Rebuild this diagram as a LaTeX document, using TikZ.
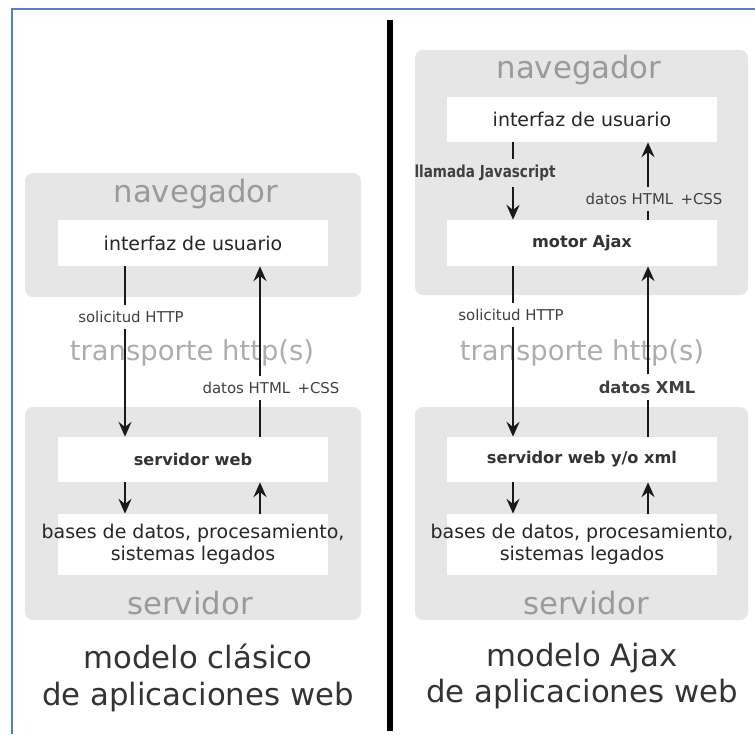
\documentclass[tikz,border=0pt]{standalone}
\usepackage{fontspec}
\setmainfont{DejaVu Sans}
\newfontfamily\narrowfont[FakeStretch=0.82]{DejaVu Sans}
\usetikzlibrary{arrows.meta}
\definecolor{panelColor}{HTML}{E6E6E6}
\definecolor{headColor}{HTML}{9A9A9A}
\definecolor{wireColor}{HTML}{ADADAD}
\definecolor{textColor}{HTML}{333333}
\definecolor{frameColor}{HTML}{5081C0}

\tikzset{
    panel/.style={draw=none,fill=panelColor,rounded corners=4.5pt,inner sep=0pt},
    layer/.style={draw=none,fill=white,minimum width=5.4cm,inner sep=0pt},
    layertext/.style={text=black!85,align=center,font=\fontsize{10.8}{12.5}\selectfont},
    layerbold/.style={text=black!80,font=\bfseries\fontsize{9.2}{11}\selectfont},
    head/.style={text=headColor,font=\fontsize{17.5}{20}\selectfont},
    wire/.style={text=wireColor,font=\fontsize{15.6}{18}\selectfont},
    lbl/.style={text=black!75,font=\fontsize{8.5}{10}\selectfont},
    title/.style={text=textColor,align=center,font=\fontsize{17.5}{21}\selectfont},
    flow/.style={line width=0.8pt,draw=black!90},
    flowArr/.style={flow,-{Stealth[length=8.5pt,width=7.5pt,inset=3pt]}}
}

\begin{document}
\begin{tikzpicture}
    \useasboundingbox (0,0) rectangle (15.1,14.68);

    \draw[frameColor,line width=1.2pt] (0.24,0) -- (0.24,14.5) -- (15.1,14.5);
    \draw[line width=3.4pt] (7.8,14.28) -- (7.8,0.06);

    % modelo clasico
    \node[panel,minimum width=6.72cm,minimum height=2.48cm] (nav1) at (3.86,9.98) {};
    \node[panel,minimum width=6.72cm,minimum height=4.26cm] (srv1) at (3.86,4.41) {};
    \node[layer,minimum height=0.92cm,layertext] (ui1) at (3.86,9.82) {interfaz de usuario};
    \node[layer,minimum height=0.90cm,layerbold] (web1) at (3.86,5.49) {servidor web};
    \node[layer,minimum height=1.22cm] (db1) at (3.86,3.79) {};
    \node[layertext] (db1t) at (3.86,3.80) {bases de datos, procesamiento,\\ sistemas legados};

    \node[head] (navtxt1) at (3.92,10.80) {navegador};
    \node[head] (srvtxt1) at (3.80,2.62) {servidor};
    \node[wire] (http1) at (3.84,7.62) {transporte http(s)};
    \node[title] (model1) at (3.96,1.12) {modelo clásico\\ de aplicaciones web};

    \node[lbl] (sol1) at (2.62,8.34) {solicitud HTTP};
    \node[lbl] (html1) at (5.42,6.92) {datos HTML \,+CSS};

    \coordinate (c1) at (2.5,0);
    \coordinate (c2) at (5.2,0);
    \draw[flow] (ui1.south -| c1) -- (sol1.north -| c1);
    \draw[flowArr] (sol1.south -| c1) -- (web1.north -| c1);
    \draw[flow] (web1.north -| c2) -- (html1.south -| c2);
    \draw[flowArr] (html1.north -| c2) -- (ui1.south -| c2);
    \draw[flowArr] (web1.south -| c1) -- (db1.north -| c1);
    \draw[flowArr] (db1.north -| c2) -- (web1.south -| c2);

    % modelo Ajax
    \node[panel,minimum width=6.66cm,minimum height=4.90cm] (nav2) at (11.63,11.23) {};
    \node[panel,minimum width=6.66cm,minimum height=4.26cm] (srv2) at (11.63,4.41) {};
    \node[layer,minimum height=0.90cm,layertext] (ui2) at (11.64,12.29) {interfaz de usuario};
    \node[layer,minimum height=0.92cm,layerbold] (motor) at (11.64,9.82) {motor Ajax};
    \node[layer,minimum height=0.90cm,layerbold] (web2) at (11.64,5.49) {servidor web y/o xml};
    \node[layer,minimum height=1.22cm] (db2) at (11.64,3.79) {};
    \node[layertext] (db2t) at (11.64,3.80) {bases de datos, procesamiento,\\ sistemas legados};

    \node[head] (navtxt2) at (11.58,13.28) {navegador};
    \node[head] (srvtxt2) at (11.72,2.62) {servidor};
    \node[wire] (http2) at (11.64,7.62) {transporte http(s)};
    \node[title] (model2) at (11.64,1.16) {modelo Ajax\\ de aplicaciones web};

    \node[lbl,font=\narrowfont\bfseries\fontsize{9.4}{11}\selectfont] (call) at (9.70,11.22) {llamada Javascript};
    \node[lbl] (html2) at (13.08,10.70) {datos HTML \,+CSS};
    \node[lbl] (sol2) at (10.22,8.38) {solicitud HTTP};
    \node[lbl,font=\bfseries\fontsize{9.3}{11}\selectfont] (xml) at (12.94,6.94) {datos XML};

    \coordinate (c3) at (10.26,0);
    \coordinate (c4) at (12.96,0);
    \draw[flow] (ui2.south -| c3) -- (call.north -| c3);
    \draw[flowArr] (call.south -| c3) -- (motor.north -| c3);
    \draw[flow] (motor.north -| c4) -- (html2.south -| c4);
    \draw[flowArr] (html2.north -| c4) -- (ui2.south -| c4);
    \draw[flow] (motor.south -| c3) -- (sol2.north -| c3);
    \draw[flowArr] (sol2.south -| c3) -- (web2.north -| c3);
    \draw[flow] (web2.north -| c4) -- (xml.south -| c4);
    \draw[flowArr] (xml.north -| c4) -- (motor.south -| c4);
    \draw[flowArr] (web2.south -| c3) -- (db2.north -| c3);
    \draw[flowArr] (db2.north -| c4) -- (web2.south -| c4);
\end{tikzpicture}
\end{document}
